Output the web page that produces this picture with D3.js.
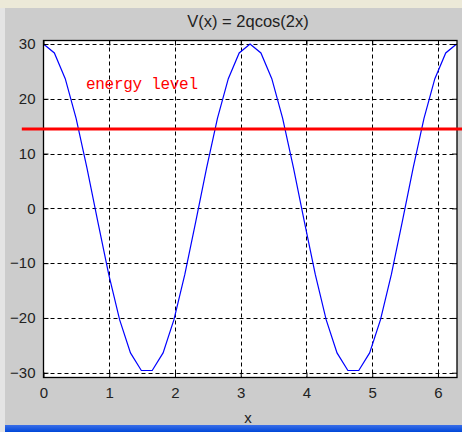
<!DOCTYPE html>
<html><head><meta charset="utf-8">
<script src="https://cdn.jsdelivr.net/npm/d3@7/dist/d3.min.js"></script>
<style>html,body{margin:0;padding:0;background:#cccccc;}svg{display:block;}</style>
</head><body>
<script>
// Sampled points of V(x) = 2q cos(2x), q = 15 (39 samples over [0, 2π])
const xValues = [0.0000,0.1653,0.3307,0.4960,0.6614,0.8267,0.9921,1.1574,1.3228,1.4881,1.6535,1.8188,1.9842,2.1495,2.3149,2.4802,2.6456,2.8109,2.9762,3.1416,3.3069,3.4723,3.6376,3.8030,3.9683,4.1337,4.2990,4.4644,4.6297,4.7951,4.9604,5.1258,5.2911,5.4565,5.6218,5.7871,5.9525,6.1178,6.2832];
const vValues = [30,28.37,23.67,16.41,7.36,-2.48,-12.05,-20.32,-26.38,-29.59,-29.59,-26.38,-20.32,-12.05,-2.48,7.36,16.41,23.67,28.37,30,28.37,23.67,16.41,7.36,-2.48,-12.05,-20.32,-26.38,-29.59,-29.59,-26.38,-20.32,-12.05,-2.48,7.36,16.41,23.67,28.37,30];
const energyLevel = 14.5;
const energyX = [-0.33, 6.5];
const xTicks = [0,1,2,3,4,5,6];
const yTicks = [-30,-20,-10,0,10,20,30];
const titleText = "V(x) = 2qcos(2x)";
const xLabel = "x";
const annotation = "energy level";

const W = 462, H = 432;
const L = 43.5, R = 457, T = 40.5, B = 377.5;
const svg = d3.select("body").append("svg").attr("width", W).attr("height", H);

// window chrome
svg.append("rect").attr("x",0).attr("y",0).attr("width",W).attr("height",H).attr("fill","#cccccc");
svg.append("rect").attr("x",0).attr("y",0).attr("width",W).attr("height",8).attr("fill","#ece9d8");
svg.append("rect").attr("x",0).attr("y",8).attr("width",5).attr("height",H-8).attr("fill","#e4e4e4");
const grad = svg.append("defs").append("linearGradient").attr("id","bar").attr("x1",0).attr("x2",0).attr("y1",0).attr("y2",1);
grad.append("stop").attr("offset","0%").attr("stop-color","#3a6ee8");
grad.append("stop").attr("offset","100%").attr("stop-color","#0047d8");
svg.append("rect").attr("x",5).attr("y",425).attr("width",W-5).attr("height",7).attr("fill","url(#bar)");

const x = d3.scaleLinear().domain([0, 6.2832]).range([L, 456.6]);
const y = d3.scaleLinear().domain([-30.87, 30.64]).range([B, T]);

// axes background
svg.append("rect").attr("x",L).attr("y",T).attr("width",R-L).attr("height",B-T).attr("fill","#ffffff");

// grid
const grid = svg.append("g").attr("stroke","#000").attr("stroke-width",1).attr("stroke-dasharray","4,3");
grid.selectAll(".vg").data(xTicks.filter(d=>d>0)).join("line")
  .attr("x1",d=>Math.round(x(d))+0.5).attr("x2",d=>Math.round(x(d))+0.5).attr("y1",T).attr("y2",B);
grid.selectAll(".hg").data(yTicks).join("line")
  .attr("y1",d=>Math.round(y(d))+0.5).attr("y2",d=>Math.round(y(d))+0.5).attr("x1",L).attr("x2",R);

// curve
const line = d3.line().x((d,i)=>x(xValues[i])).y(d=>y(d));
svg.append("path").datum(vValues).attr("d",line).attr("fill","none").attr("stroke","#0000ff").attr("stroke-width",1.2);

// axes box & ticks
svg.append("rect").attr("x",L).attr("y",T).attr("width",R-L).attr("height",B-T).attr("fill","none").attr("stroke","#000").attr("stroke-width",1.3);
const xAxisB = d3.axisBottom(x).tickValues(xTicks).tickSize(-5).tickPadding(10).tickFormat(d3.format("d"));
const gxb = svg.append("g").attr("transform",`translate(0,${B})`).call(xAxisB);
const xAxisT = d3.axisTop(x).tickValues(xTicks).tickSize(-5).tickFormat("");
const gxt = svg.append("g").attr("transform",`translate(0,${T})`).call(xAxisT);
const yAxisL = d3.axisLeft(y).tickValues(yTicks).tickSize(-5).tickPadding(8).tickFormat(d3.format("d"));
const gyl = svg.append("g").attr("transform",`translate(${L},0)`).call(yAxisL);
const yAxisR = d3.axisRight(y).tickValues(yTicks).tickSize(-5).tickFormat("");
const gyr = svg.append("g").attr("transform",`translate(${R},0)`).call(yAxisR);
[gxb,gxt,gyl,gyr].forEach(g=>{
  g.select(".domain").remove();
  g.selectAll(".tick line").attr("stroke","#000");
  g.selectAll("text").attr("font-family","Liberation Sans, Arial, sans-serif").attr("font-size","15px").attr("fill","#222");
});
gxb.selectAll("text").attr("dy","0.71em");

// energy level line (extends beyond axes)
svg.append("line").attr("x1",x(energyX[0])).attr("x2",x(energyX[1]))
  .attr("y1",y(energyLevel)).attr("y2",y(energyLevel)).attr("stroke","#ff0000").attr("stroke-width",3);

svg.append("text").attr("x",86).attr("y",89).attr("font-family","Liberation Mono, Courier New, monospace")
  .attr("font-size","16px").attr("fill","#ff0000").attr("textLength",112).attr("lengthAdjust","spacing").text(annotation);

// title & label
svg.append("text").attr("x",248).attr("y",27).attr("text-anchor","middle")
  .attr("font-family","Liberation Sans, Arial, sans-serif").attr("font-size","16.5px").attr("fill","#222").text(titleText);
svg.append("text").attr("x",248).attr("y",423).attr("text-anchor","middle")
  .attr("font-family","Liberation Sans, Arial, sans-serif").attr("font-size","15px").attr("fill","#222").text(xLabel);
</script>
</body></html>
